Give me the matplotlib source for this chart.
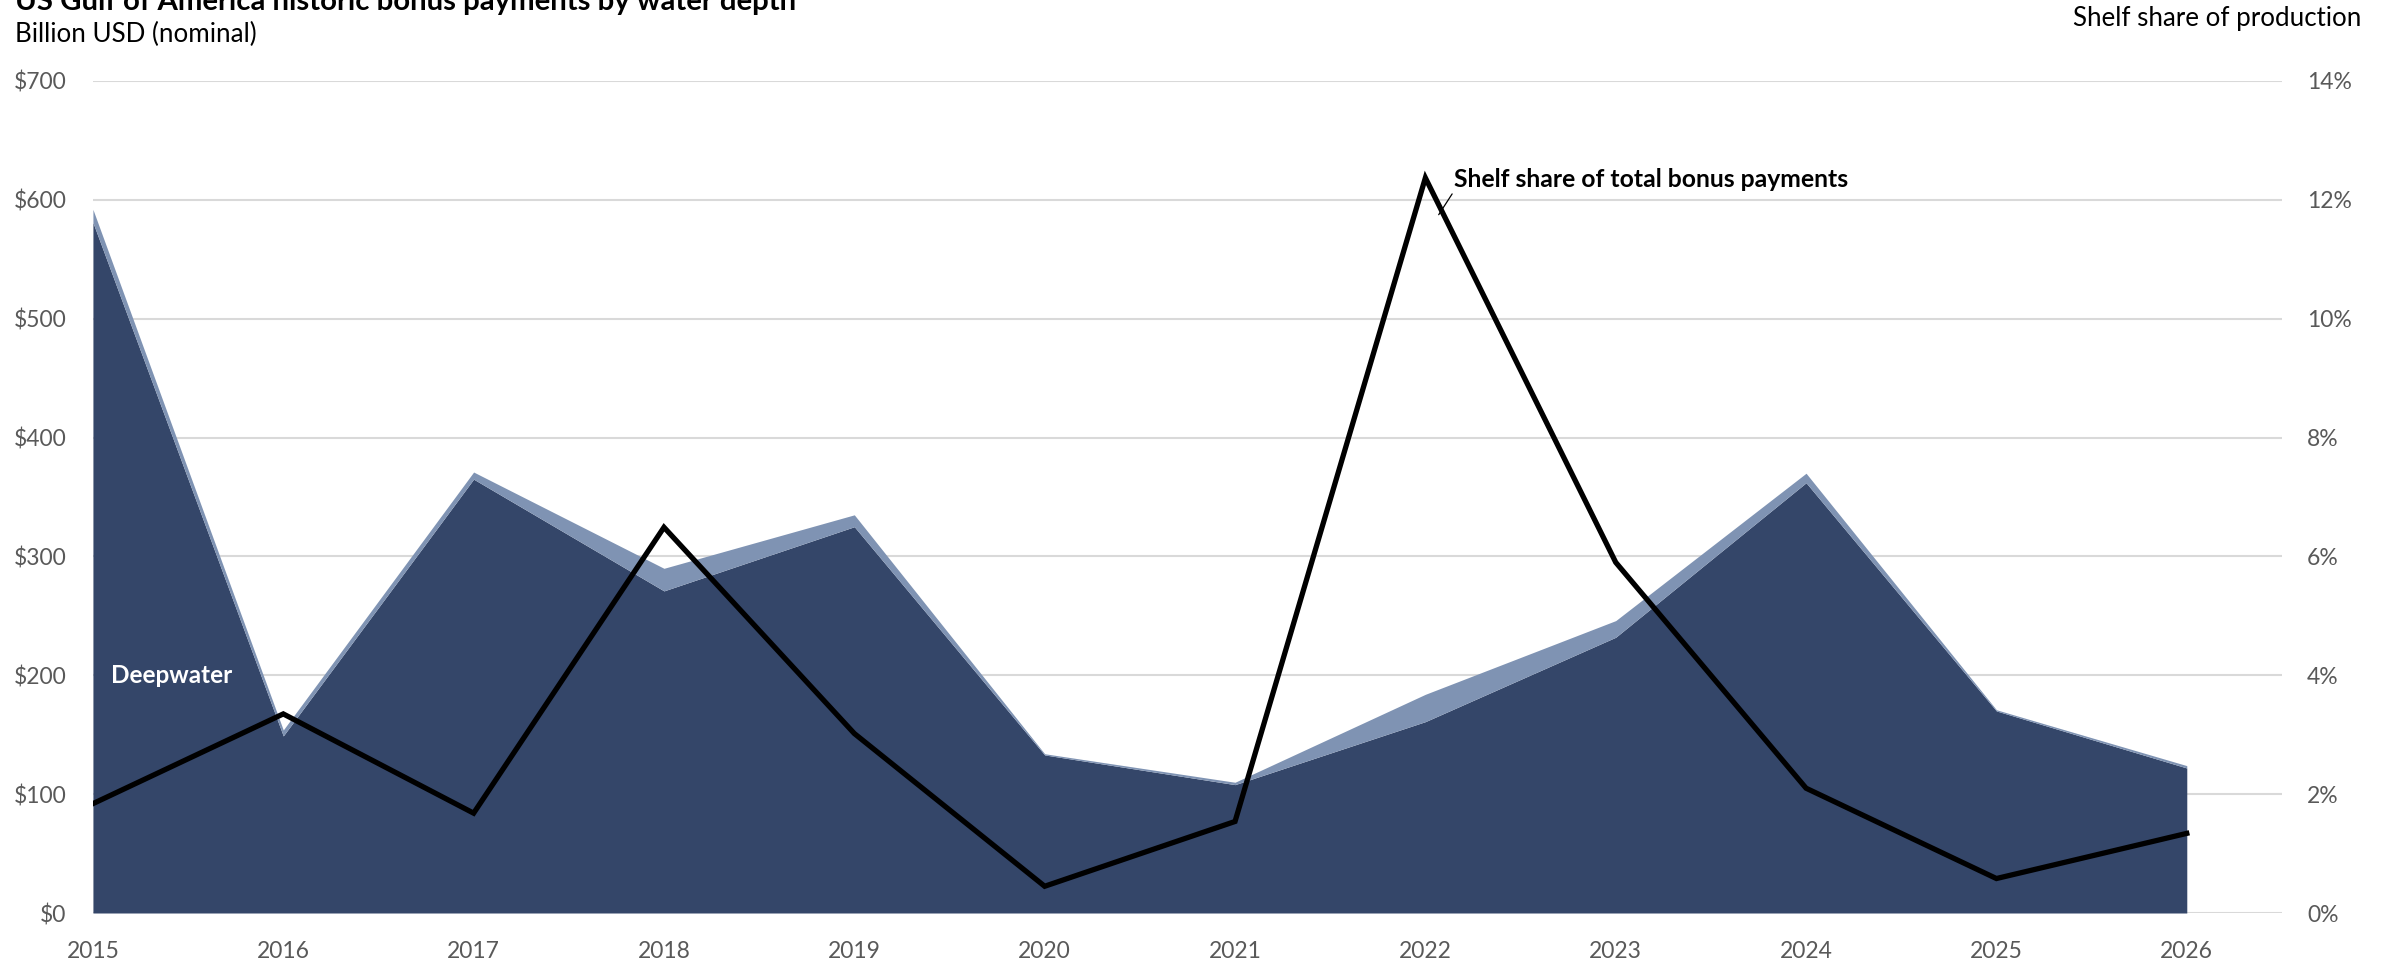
import matplotlib
matplotlib.use("Agg")
import matplotlib.pyplot as plt
from matplotlib.ticker import FuncFormatter

plt.rcParams.update({"font.family": ["Lato", "DejaVu Sans"], "font.size": 16.5})

# data
years = [2015, 2016, 2017, 2018, 2019, 2020, 2021, 2022, 2023, 2024, 2025, 2026]
deepwater = [581, 149, 365, 271, 325, 133, 108, 161, 232, 362, 170, 122]
shelf = [11, 5, 6, 19, 10, 1, 2, 23, 14, 8, 1, 2]
shelf_share = [1.84, 3.35, 1.68, 6.49, 3.02, 0.45, 1.54, 12.37, 5.90, 2.10, 0.58, 1.34]
usd_ticks = [0, 100, 200, 300, 400, 500, 600, 700]
pct_ticks = [0, 2, 4, 6, 8, 10, 12, 14]

NAVY, STEEL, GRID, TICK = "#344669", "#7F93B3", "#D9D9D9", "#595959"

fig = plt.figure(figsize=(23.95, 9.64), dpi=100)
ax = fig.add_axes([0.0388, 0.0529, 0.914, 0.8631])
ax2 = ax.twinx()

total = [d + s for d, s in zip(deepwater, shelf)]
ax.fill_between(years, 0, deepwater, color=NAVY, lw=0, zorder=3)
ax.fill_between(years, deepwater, total, color=STEEL, lw=0, zorder=3)

ax.set_xlim(2015, 2026.5)
ax.set_ylim(0, 700)
ax.set_yticks(usd_ticks)
ax.yaxis.set_major_formatter(FuncFormatter(lambda v, p: f"${v:,.0f}"))
ax.set_xticks(years)
ax.grid(True, axis="y", color=GRID, lw=1.5, zorder=0)
ax.set_axisbelow(True)
for s in ax.spines.values():
    s.set_visible(False)
ax.tick_params(axis="y", length=0, pad=19, colors=TICK, labelsize=16.5)
ax.tick_params(axis="x", length=0, pad=20, colors=TICK, labelsize=16.5)

ax2.plot(years, shelf_share, color="black", lw=3.8, solid_joinstyle="miter", zorder=5)
ax2.set_ylim(0, 14)
ax2.set_yticks(pct_ticks)
ax2.yaxis.set_major_formatter(FuncFormatter(lambda v, p: f"{v:.0f}%"))
for s in ax2.spines.values():
    s.set_visible(False)
ax2.tick_params(axis="y", length=0, pad=18, colors=TICK, labelsize=16.5)

ax.text(2015.095, 200, "Deepwater", color="white", fontsize=17.5, fontweight="bold",
        ha="left", va="center", zorder=6)
ax2.annotate("Shelf share of total bonus payments", xy=(2022.07, 11.75), xytext=(2022.15, 12.34),
             fontsize=17.8, fontweight="bold", ha="left", va="center",
             arrowprops=dict(arrowstyle="-", color="black", lw=0.9, relpos=(0, 0), shrinkA=0, shrinkB=0))

fig.text(0.0063, 0.9896, "US Gulf of America historic bonus payments by water depth",
         fontsize=21.2, fontweight="bold", ha="left", va="baseline")
fig.text(0.0063, 0.964, "Billion USD (nominal)", fontsize=18.7, ha="left", va="center")
fig.text(0.986, 0.981, "Shelf share of production", fontsize=18.6, ha="right", va="center")

fig.savefig("out.png", dpi=100)
